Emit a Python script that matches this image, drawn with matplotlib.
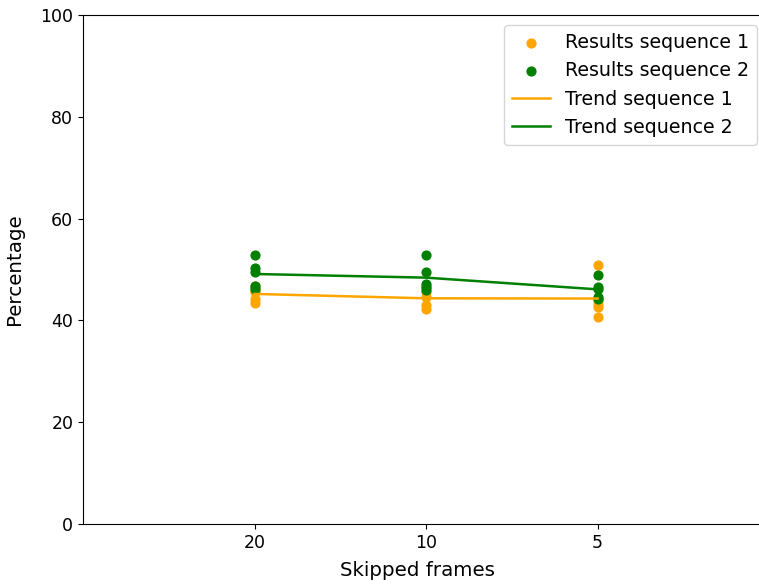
import matplotlib
matplotlib.use("Agg")
import matplotlib.pyplot as plt
import numpy as np

categories = ["20", "10", "5"]
seq1 = [
    [46.8, 46.0, 45.5, 44.2, 43.5],
    [46.5, 45.5, 44.5, 43.0, 42.2],
    [50.9, 44.0, 43.2, 42.7, 40.7],
]
seq2 = [
    [52.8, 50.3, 49.5, 46.8, 46.2],
    [52.8, 49.5, 47.2, 46.6, 45.9],
    [48.9, 46.6, 46.2, 44.5, 44.3],
]

plt.rcParams['font.size'] = 12.5
fig = plt.figure(figsize=(7.59, 5.88), dpi=100)
ax = fig.add_axes([83/759, 1-524/588, (769-83)/759, (524-15)/588])

xpos = np.arange(len(categories))
for i in range(len(categories)):
    ax.scatter([xpos[i]]*len(seq1[i]), seq1[i], color='orange', s=40, zorder=2,
               label='Results sequence 1' if i == 0 else None)
for i in range(len(categories)):
    ax.scatter([xpos[i]]*len(seq2[i]), seq2[i], color='green', s=40, zorder=2,
               label='Results sequence 2' if i == 0 else None)
ax.plot(xpos, [np.mean(v) for v in seq1], color='orange', lw=1.8, label='Trend sequence 1', zorder=3)
ax.plot(xpos, [np.mean(v) for v in seq2], color='green', lw=1.8, label='Trend sequence 2', zorder=3)

ax.set_xticks(xpos)
ax.set_xticklabels(categories)
ax.set_xlim(-1, 3)
ax.set_ylim(0, 100)
ax.set_xlabel('Skipped frames', fontsize=14.3, labelpad=7)
ax.xaxis.label.set_x((417 - 83) / (769 - 83))
ax.set_ylabel('Percentage', fontsize=14.3, labelpad=12)
leg = ax.legend(loc='upper right', bbox_to_anchor=(757/759, 1-25/588), bbox_transform=fig.transFigure,
                borderaxespad=0, fontsize=13.7)
fig.savefig('out.png', dpi=100)
